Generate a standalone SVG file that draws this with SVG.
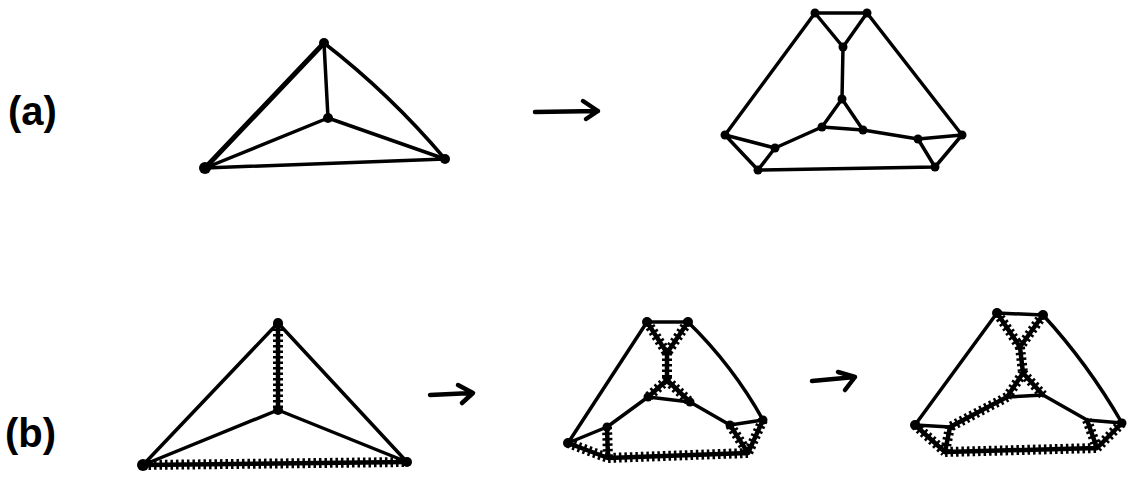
<svg xmlns="http://www.w3.org/2000/svg" width="1129" height="484" viewBox="0 0 1129 484">
<style>
.e{stroke:#000;stroke-width:3.5;fill:none;stroke-linecap:round;stroke-linejoin:round}
.zb{stroke:#000;stroke-width:4.5;fill:none;stroke-linecap:round;stroke-linejoin:round}
.z{stroke:#000;stroke-width:10;stroke-dasharray:2.5 3;fill:none}
.v{fill:#000}
.lbl{font-family:"Liberation Sans",Arial,sans-serif;font-size:40px;font-weight:bold;fill:#000}
</style>
<rect width="1129" height="484" fill="#fff"/>
<text class="lbl" x="8" y="125">(a)</text>
<text class="lbl" x="5" y="447">(b)</text>
<g id="connectors">
  <!-- a left -->
  <path class="e" style="stroke-width:5" d="M324,43 L205,168"/>
  <path class="e" d="M324,43 Q390,94 445,159"/>
  <path class="e" d="M205,168 L445,159 M324,43 L328,118 M328,118 L205,168 M328,118 L445,159"/>
  <!-- arrow a -->
  <path class="e" style="stroke-width:4.5" d="M535,112 L598,111 M583,101 L598,111 L586,119"/>
  <!-- a right -->
  <path class="e" d="M815,13 L867,13 M815,13 L843,47 M867,13 L843,47 M843,47 L842,99 M842,99 L822,127 M842,99 L863,130 M822,127 L863,130 M822,127 L775,148 M863,130 L918,139 M775,148 L725,135 M775,148 L758,170 M725,135 L758,170 M918,139 L962,135 M918,139 L935,167 M962,135 L935,167 M758,170 L935,167 M815,13 L725,135 M867,13 L962,135"/>
  <!-- b left -->
  <path class="e" d="M278,323 L143,465 M278,323 L407,462 M278,410 L143,465 M278,410 L407,462"/>
  <path class="zb" d="M278,323 L278,410 M143,465 L407,462"/>
  <path class="z" d="M278,323 L278,410 M143,465 L407,462"/>
  <!-- arrow b1 -->
  <path class="e" style="stroke-width:4.5" d="M430,395 L472,393 M458,385 L473,393 L462,403"/>
  <!-- b middle -->
  <path class="e" d="M647,322 L688,322 M648,397 L690,402 M647,322 L568,443 M688,322 Q733,366 763,420 M648,397 L607,427 M690,402 L730,425 M607,427 L568,443 M730,425 L763,420"/>
  <path class="zb" d="M647,322 L667,353 M688,322 L667,353 M667,353 L667,380 M667,380 L648,397 M667,380 L690,402 M607,427 L608,458 M568,443 L608,458 M608,458 L748,453 M730,425 L748,453 M763,420 L748,453"/>
  <path class="z" d="M647,322 L667,353 M688,322 L667,353 M667,353 L667,380 M667,380 L648,397 M667,380 L690,402 M607,427 L608,458 M568,443 L608,458 M608,458 L748,453 M730,425 L748,453 M763,420 L748,453"/>
  <!-- arrow b2 -->
  <path class="e" style="stroke-width:4.5" d="M812,381 L855,377 M838,372 L855,377 L845,390"/>
  <!-- b right -->
  <path class="e" d="M997,313 L1043,315 M1007,397 L1043,395 M997,313 L915,425 M1043,315 Q1088,364 1122,423 M1043,395 L1087,420 M950,427 L915,425 M1087,420 L1122,423"/>
  <path class="zb" d="M997,313 L1020,347 M1043,315 L1020,347 M1020,347 L1023,373 M1023,373 L1007,397 M1023,373 L1043,395 M1007,397 L950,427 M915,425 L945,452 M950,427 L945,452 M945,452 L1097,448 M1087,420 L1097,448 M1122,423 L1097,448"/>
  <path class="z" d="M997,313 L1020,347 M1043,315 L1020,347 M1020,347 L1023,373 M1023,373 L1007,397 M1023,373 L1043,395 M1007,397 L950,427 M915,425 L945,452 M950,427 L945,452 M945,452 L1097,448 M1087,420 L1097,448 M1122,423 L1097,448"/>
</g>
<g id="a-left">
  <g id="aL-T"><circle class="v" cx="324" cy="43" r="5"/></g>
  <g id="aL-C"><circle class="v" cx="328" cy="118" r="5"/></g>
  <g id="aL-L"><circle class="v" cx="205" cy="168" r="6"/></g>
  <g id="aL-R"><circle class="v" cx="445" cy="159" r="5"/></g>
</g>
<g id="a-right">
  <g id="aR-TL"><circle class="v" cx="815" cy="13" r="4.5"/></g>
  <g id="aR-TR"><circle class="v" cx="867" cy="13" r="4.5"/></g>
  <g id="aR-UM"><circle class="v" cx="843" cy="47" r="4.5"/></g>
  <g id="aR-CT"><circle class="v" cx="842" cy="99" r="4.5"/></g>
  <g id="aR-IL"><circle class="v" cx="822" cy="127" r="4.5"/></g>
  <g id="aR-IR"><circle class="v" cx="863" cy="130" r="4.5"/></g>
  <g id="aR-OL"><circle class="v" cx="725" cy="135" r="4.5"/></g>
  <g id="aR-LM"><circle class="v" cx="775" cy="148" r="4.5"/></g>
  <g id="aR-BL"><circle class="v" cx="758" cy="170" r="4.5"/></g>
  <g id="aR-RO"><circle class="v" cx="962" cy="135" r="4.5"/></g>
  <g id="aR-RM"><circle class="v" cx="918" cy="139" r="4.5"/></g>
  <g id="aR-BR"><circle class="v" cx="935" cy="167" r="4.5"/></g>
</g>
<g id="b-left">
  <g id="bL-T"><circle class="v" cx="278" cy="323" r="5"/></g>
  <g id="bL-C"><circle class="v" cx="278" cy="410" r="5"/></g>
  <g id="bL-L"><circle class="v" cx="143" cy="465" r="6"/></g>
  <g id="bL-R"><circle class="v" cx="407" cy="462" r="5"/></g>
</g>
<g id="b-middle">
  <g id="bM-TL"><circle class="v" cx="647" cy="322" r="5"/></g>
  <g id="bM-TR"><circle class="v" cx="688" cy="322" r="5"/></g>
  <g id="bM-IL"><circle class="v" cx="648" cy="397" r="4.5"/></g>
  <g id="bM-IR"><circle class="v" cx="690" cy="402" r="4.5"/></g>
  <g id="bM-OL"><circle class="v" cx="568" cy="443" r="5"/></g>
  <g id="bM-LM"><circle class="v" cx="607" cy="427" r="4.5"/></g>
  <g id="bM-RO"><circle class="v" cx="763" cy="420" r="4.5"/></g>
  <g id="bM-RM"><circle class="v" cx="730" cy="425" r="4.5"/></g>
</g>
<g id="b-right">
  <g id="bR-TL"><circle class="v" cx="997" cy="313" r="5"/></g>
  <g id="bR-TR"><circle class="v" cx="1043" cy="315" r="5"/></g>
  <g id="bR-OL"><circle class="v" cx="915" cy="425" r="5"/></g>
  <g id="bR-RO"><circle class="v" cx="1122" cy="423" r="4.5"/></g>
</g>
</svg>
